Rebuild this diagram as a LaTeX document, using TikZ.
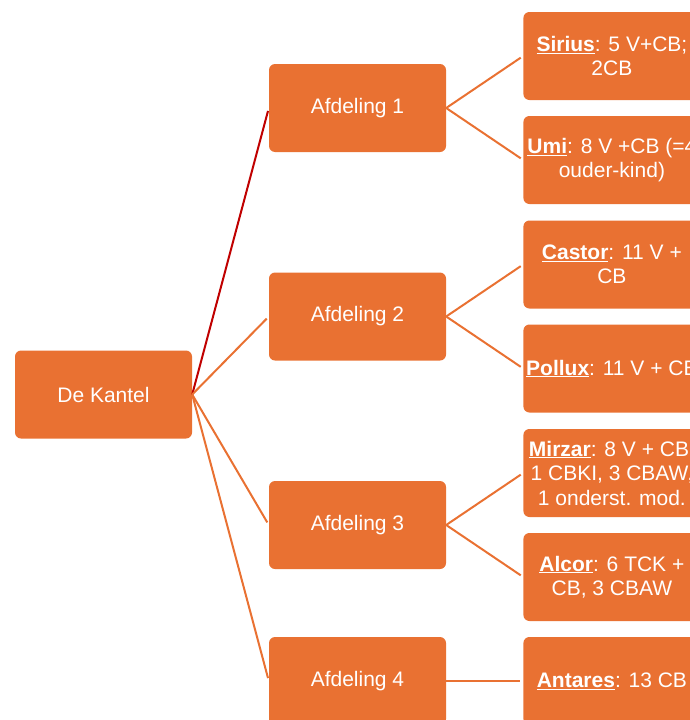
\documentclass[tikz,border=0pt]{standalone}
\usepackage{fontspec}
\setmainfont{Liberation Sans}
\usetikzlibrary{positioning}
\definecolor{boxorange}{HTML}{E97132}
\definecolor{darkred}{HTML}{C00000}
\newcommand{\loc}[1]{\underline{\textbf{#1}}}

\begin{document}
\begin{tikzpicture}[x=1pt,y=-1pt,
  unit/.style={rectangle,rounded corners=6pt,fill=boxorange,text=white,
    minimum width=177pt,minimum height=88pt,inner xsep=0pt,align=center,
    font=\fontsize{21}{24.5}\selectfont},
  link/.style={draw=boxorange,line width=2pt,shorten >=3pt}]
\useasboundingbox (0,0) rectangle (689,720);

\node[unit] (root) at (103.5,394.5) {De Kantel};

\node[unit] (afd1) at (357.5,108) {Afdeling 1};
\node[unit] (afd2) at (357.5,316.5) {Afdeling 2};
\node[unit] (afd3) at (357.5,525) {Afdeling 3};
\node[unit] (afd4) at (357.5,681) {Afdeling 4};

\node[unit,right=77pt of afd1,yshift=52pt] (sirius) {\loc{Sirius}: 5 V+CB;\\2CB};
\node[unit,right=77pt of afd1,yshift=-52pt] (umi) {\loc{Umi}: 8 V +CB (=4\\ouder-kind)};
\node[unit,right=77pt of afd2,yshift=52pt] (castor) {\loc{Castor}: 11 V +\\CB};
\node[unit,right=77pt of afd2,yshift=-52pt] (pollux) {\loc{Pollux}: 11 V + CB};
\node[unit,right=77pt of afd3,yshift=52pt] (mirzar) {\loc{Mirzar}: 8 V + CB,\\1 CBKI, 3 CBAW,\\1 onderst. mod.};
\node[unit,right=77pt of afd3,yshift=-52pt] (alcor) {\loc{Alcor}: 6 TCK +\\CB, 3 CBAW};
\node[unit,right=77pt of afd4] (antares) {\loc{Antares}: 13 CB};

% root to afdelingen
\draw[link,draw=darkred] (root.east) -- (afd1.west);
\draw[link] (root.east) -- (afd2.west);
\draw[link] (root.east) -- (afd3.west);
\draw[link] (root.east) -- (afd4.west);

% afdelingen to groepen
\draw[link] (afd1.east) -- (sirius.west);
\draw[link] (afd1.east) -- (umi.west);
\draw[link] (afd2.east) -- (castor.west);
\draw[link] (afd2.east) -- (pollux.west);
\draw[link] (afd3.east) -- (mirzar.west);
\draw[link] (afd3.east) -- (alcor.west);
\draw[link] (afd4.east) -- (antares.west);

\end{tikzpicture}
\end{document}
